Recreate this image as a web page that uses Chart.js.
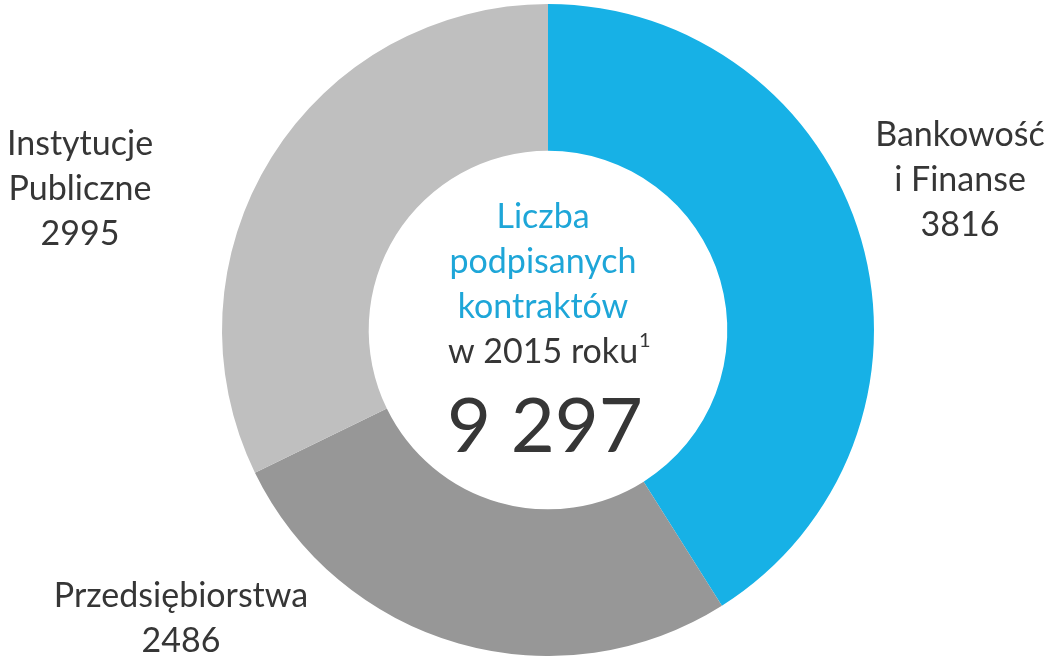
<!DOCTYPE html>
<html>
<head>
<meta charset="utf-8">
<script src="https://cdn.jsdelivr.net/npm/chart.js@4/dist/chart.umd.min.js"></script>
<style>
  html, body { margin: 0; padding: 0; background: #ffffff; }
  #wrap { width: 1047px; height: 656px; position: relative; }
</style>
</head>
<body>
<div id="wrap"><canvas id="chart"></canvas></div>
<script>
// dane
const categories = ['Bankowość i Finanse', 'Przedsiębiorstwa', 'Instytucje Publiczne'];
const values = [3816, 2486, 2995];
const colors = ['#17B1E6', '#979797', '#BFBFBF'];
const labelLines = [
    ['Bankowość', 'i Finanse', '3816'],
    ['Przedsiębiorstwa', '2486'],
    ['Instytucje', 'Publiczne', '2995']
];
const centerTitle = ['Liczba', 'podpisanych', 'kontraktów'];
const centerYear = 'w 2015 roku';
const centerTotal = '9 297';

const FONT = 'Lato, "Open Sans", sans-serif';
const TEXT = '#363636';

// etykiety kategorii (pozycje względem obszaru wykresu)
const labelPos = [
    { x: 960, y: 146 },
    { x: 181, y: 607 },
    { x: 80, y: 155 }
];

const textPlugin = {
    id: 'textPlugin',
    afterDraw(chart) {
        const ctx = chart.ctx;
        const meta = chart.getDatasetMeta(0);
        const cx = meta.data[0].x;
        const cy = meta.data[0].y;
        ctx.save();
        ctx.textAlign = 'center';
        ctx.textBaseline = 'alphabetic';

        // etykiety
        ctx.font = '34px ' + FONT;
        ctx.fillStyle = TEXT;
        labelLines.forEach((lines, i) => {
            lines.forEach((t, j) => {
                ctx.fillText(t, labelPos[i].x, labelPos[i].y + j * 45);
            });
        });

        // tekst w środku
        ctx.fillStyle = '#1EA6D8';
        centerTitle.forEach((t, j) => {
            ctx.fillText(t, cx - 5, cy - 102 + j * 45);
        });
        ctx.fillStyle = TEXT;
        const w = ctx.measureText(centerYear).width;
        ctx.fillText(centerYear, cx - 5, cy + 33);
        ctx.font = '20px ' + FONT;
        ctx.textAlign = 'left';
        ctx.fillText('1', cx - 5 + w / 2 + 1, cy + 17);

        ctx.textAlign = 'center';
        ctx.font = '76px ' + FONT;
        ctx.fillText(centerTotal, cx - 3, cy + 122);
        ctx.restore();
    }
};

new Chart(document.getElementById('chart'), {
    type: 'doughnut',
    data: {
        labels: categories,
        datasets: [{
            data: values,
            backgroundColor: colors,
            borderWidth: 0,
            hoverOffset: 0
        }]
    },
    options: {
        responsive: true,
        maintainAspectRatio: false,
        animation: false,
        cutout: '55%',
        rotation: 0,
        layout: { padding: { top: 4, bottom: 0, left: 49, right: 0 } },
        plugins: {
            legend: { display: false },
            tooltip: { enabled: false }
        }
    },
    plugins: [textPlugin]
});
</script>
</body>
</html>
